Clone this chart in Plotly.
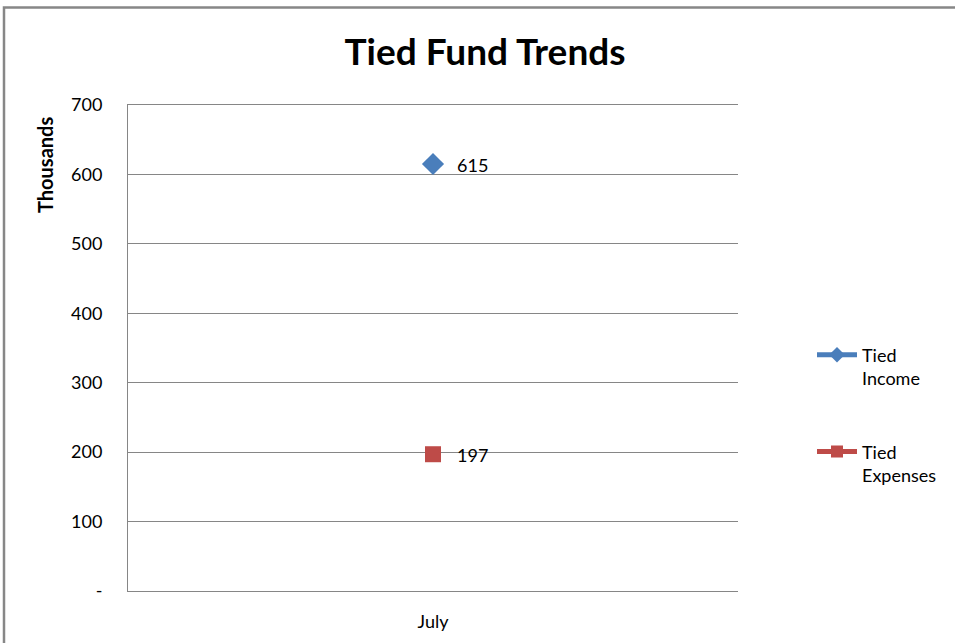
import plotly.graph_objects as go

categories = ["July"]
income = [615]
expenses = [197]
series_names = ["Tied<br>Income", "Tied<br>Expenses"]
ytick_vals = [0, 100, 200, 300, 400, 500, 600, 700]
ytick_text = ["-", "100", "200", "300", "400", "500", "600", "700"]

FONT = "Lato"
W, H = 955, 643
L, R, T, B = 128, 738, 105, 591

def px_x(p):
    return (p - L) / (R - L)

def px_y(p):
    return (B - p) / (B - T)

fig = go.Figure()
fig.add_trace(go.Scatter(
    x=categories, y=income, name=series_names[0], mode="lines+markers",
    line=dict(color="#4A7EBB", width=3),
    marker=dict(symbol="diamond", size=17, color="#4A7EBB"),
    legendgroup="a",
))
fig.add_trace(go.Scatter(
    x=categories, y=expenses, name=series_names[1], mode="lines+markers",
    line=dict(color="#BE4B48", width=3),
    marker=dict(symbol="square", size=16, color="#BE4B48"),
    legendgroup="b",
))

for xs, ys in ((categories, income), (categories, expenses)):
    for xv, yv in zip(xs, ys):
        fig.add_annotation(x=xv, y=yv, text=str(yv), showarrow=False,
                           xanchor="left", xshift=22, yshift=-1,
                           font=dict(family=FONT, size=18, color="#000000"))

fig.add_annotation(xref="paper", yref="paper", x=px_x(45), y=px_y(165),
                   text="<b>Thousands</b>", textangle=-90, showarrow=False,
                   xanchor="center", yanchor="middle",
                   font=dict(family=FONT, size=20, color="#000000"))

# outer chart border (left and top visible)
fig.add_shape(type="path", xref="paper", yref="paper",
              path=f"M {px_x(4)} {px_y(700)} L {px_x(4)} {px_y(7.5)} L {px_x(1000)} {px_y(7.5)}",
              line=dict(color="#878787", width=2.5))

fig.update_layout(
    width=W, height=H,
    margin=dict(l=L, r=W - R, t=T, b=H - B, autoexpand=False),
    paper_bgcolor="white", plot_bgcolor="white",
    title=dict(text="<b>Tied Fund Trends</b>", x=485 / W,
               xref="container", xanchor="center", y=1 - 52 / H, yanchor="middle",
               font=dict(family=FONT, size=37, color="#000000")),
    showlegend=True,
    legend=dict(x=px_x(812), y=px_y(415), xanchor="left", yanchor="middle",
                font=dict(family=FONT, size=18, color="#000000"),
                tracegroupgap=47, valign="top", itemwidth=40,
                itemsizing="constant",
                bgcolor="rgba(0,0,0,0)"),
    xaxis=dict(type="category", range=[-0.5, 0.5], showgrid=False,
               showline=True, mirror=True, linecolor="#868686", linewidth=1,
               ticks="", ticklabelstandoff=14, automargin=False,
               tickfont=dict(family=FONT, size=18, color="#000000"),
               fixedrange=True),
    yaxis=dict(range=[0, 700], tickvals=ytick_vals, ticktext=ytick_text,
               showgrid=True, gridcolor="#868686", gridwidth=1,
               showline=True, linecolor="#868686", linewidth=1,
               zeroline=False, ticks="", ticklabelstandoff=21, automargin=False,
               tickfont=dict(family=FONT, size=18, color="#000000")),
)
fig.write_html("out.html")
